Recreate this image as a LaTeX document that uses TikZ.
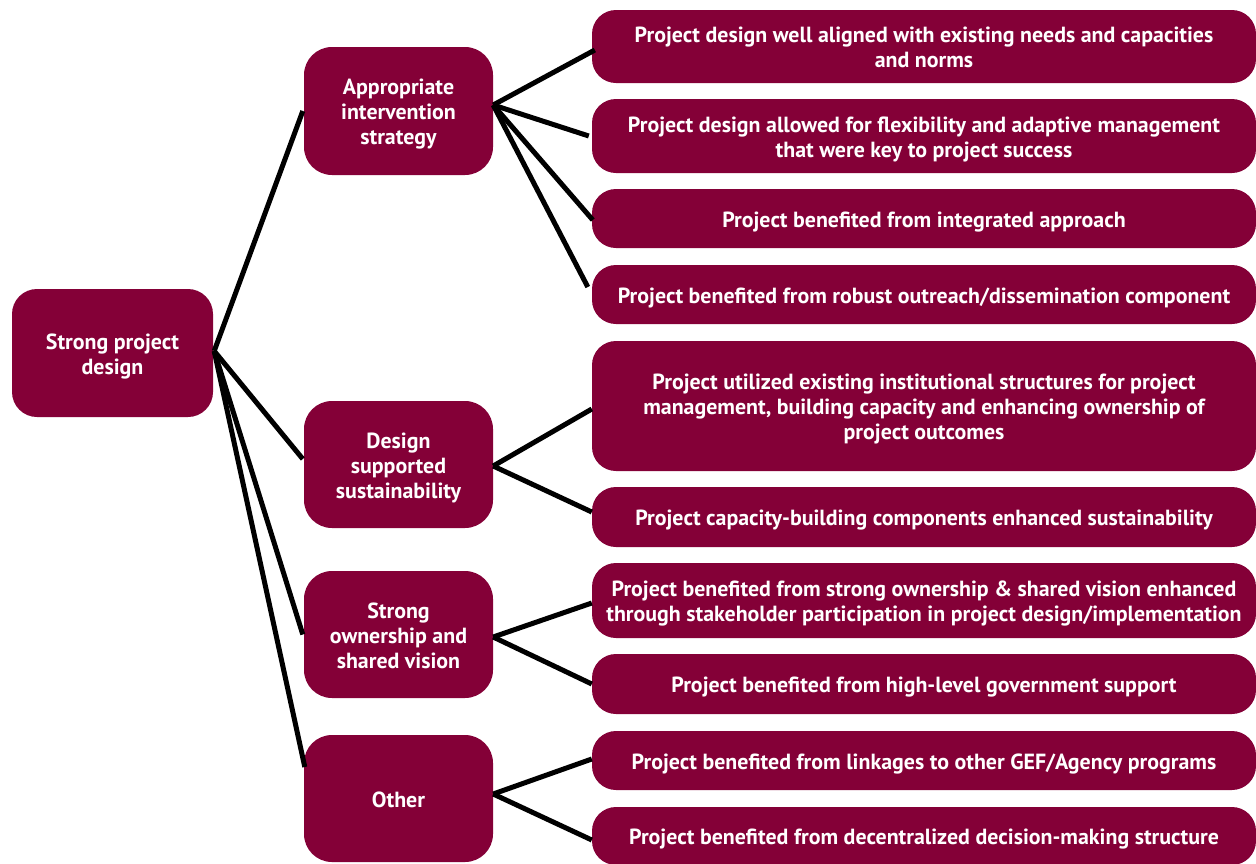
\documentclass[tikz,border=0pt]{standalone}
\usepackage{fontspec}
\setmainfont{PT Sans}
\usetikzlibrary{calc}
\definecolor{maroon}{RGB}{132,0,55}
\newcommand\topstrutx{\rule{0pt}{23pt}}
\newcommand\botstrutx{\rule[-6pt]{0pt}{6pt}}
\tikzset{
  box/.style={fill=maroon, draw=none, text=white, font=\fontsize{21.9}{25}\selectfont\bfseries, align=center, inner sep=0pt, anchor=center},
  rootbox/.style={box, rounded corners=25pt},
  midbox/.style={box, rounded corners=28pt, minimum width=189pt, minimum height=127pt},
  leafbox/.style={box, rounded corners=24pt, minimum width=664pt},
  link/.style={draw=black, line width=5pt}
}
\begin{document}
\begin{tikzpicture}[x=1pt,y=-1pt]
\useasboundingbox (0,0) rectangle (1256,863);
\clip (0,0) rectangle (1256,863);
% root
\node[rootbox, minimum width=201pt, minimum height=128pt] (root) at (112.5,353) {\topstrutx Strong project\\design\botstrutx};
% middle
\node[midbox, minimum height=128pt] (A) at (398.5,111) {\topstrutx Appropriate\\intervention\\strategy\botstrutx};
\node[midbox] (B) at (398.5,464.5) {\topstrutx Design\\supported\\sustainability\botstrutx};
\node[midbox] (C) at (398.5,634.5) {\topstrutx Strong\\ownership and\\shared vision\botstrutx};
\node[midbox] (D) at (398.5,798.5) {\topstrutx Other\botstrutx};
% leaves
\node[leafbox, minimum height=73pt] (R1) at (924,46.5) {\topstrutx Project design well aligned with existing needs and capacities\\and norms\botstrutx};
\node[leafbox, minimum height=74pt] (R2) at (924,136) {\topstrutx Project design allowed for flexibility and adaptive management\\that were key to project success\botstrutx};
\node[leafbox, minimum height=59pt] (R3) at (924,218.5) {\topstrutx Project benefited from integrated approach\botstrutx};
\node[leafbox, minimum height=59pt] (R4) at (924,294.5) {\topstrutx Project benefited from robust outreach/dissemination component\botstrutx};
\node[leafbox, minimum height=130pt] (R5) at (924,406) {\topstrutx Project utilized existing institutional structures for project\\management, building capacity and enhancing ownership of\\project outcomes\botstrutx};
\node[leafbox, minimum height=60pt] (R6) at (924,517) {\topstrutx Project capacity-building components enhanced sustainability\botstrutx};
\node[leafbox, minimum height=75pt] (R7) at (924,600.5) {\topstrutx Project benefited from strong ownership \& shared vision enhanced\\through stakeholder participation in project design/implementation\botstrutx};
\node[leafbox, minimum height=60pt] (R8) at (924,684) {\topstrutx Project benefited from high-level government support\botstrutx};
\node[leafbox, minimum height=59pt] (R9) at (924,760.5) {\topstrutx Project benefited from linkages to other GEF/Agency programs\botstrutx};
\node[leafbox, minimum height=58pt] (R10) at (924,836) {\topstrutx Project benefited from decentralized decision-making structure\botstrutx};
% connectors root -> middle
\coordinate (rs) at ([xshift=1pt,yshift=2pt]root.east);
\draw[link] (rs) -- ([xshift=-1pt]A.west);
\draw[link] (rs) -- ([xshift=-1pt,yshift=5.5pt]B.west);
\draw[link] (rs) -- ([xshift=-1pt]C.west);
\draw[link] (rs) -- ([xshift=1pt,yshift=31.5pt]D.west);
% A -> leaves
\coordinate (as) at ([yshift=6pt]A.east);
\draw[link] (as) -- ([xshift=3pt,yshift=-3.5pt]R1.west);
\draw[link] (as) -- ([xshift=-3pt]R2.west);
\draw[link] (as) -- ([xshift=1pt,yshift=-1.5pt]R3.west);
\draw[link] (as) -- ([xshift=-4pt,yshift=7.5pt]R4.west);
% B -> leaves
\coordinate (bs) at ([yshift=-1.5pt]B.east);
\draw[link] (bs) -- ([yshift=-3pt]R5.west);
\draw[link] (bs) -- ([yshift=5pt]R6.west);
% C -> leaves
\coordinate (cs) at ([yshift=-2.5pt]C.east);
\draw[link] (cs) -- ([yshift=-2.5pt]R7.west);
\draw[link] (cs) -- (R8.west);
% D -> leaves
\coordinate (ds) at ([yshift=4.5pt]D.east);
\draw[link] (ds) -- ([yshift=1.5pt]R9.west);
\draw[link] (ds) -- ([yshift=-4pt]R10.west);
\end{tikzpicture}
\end{document}
